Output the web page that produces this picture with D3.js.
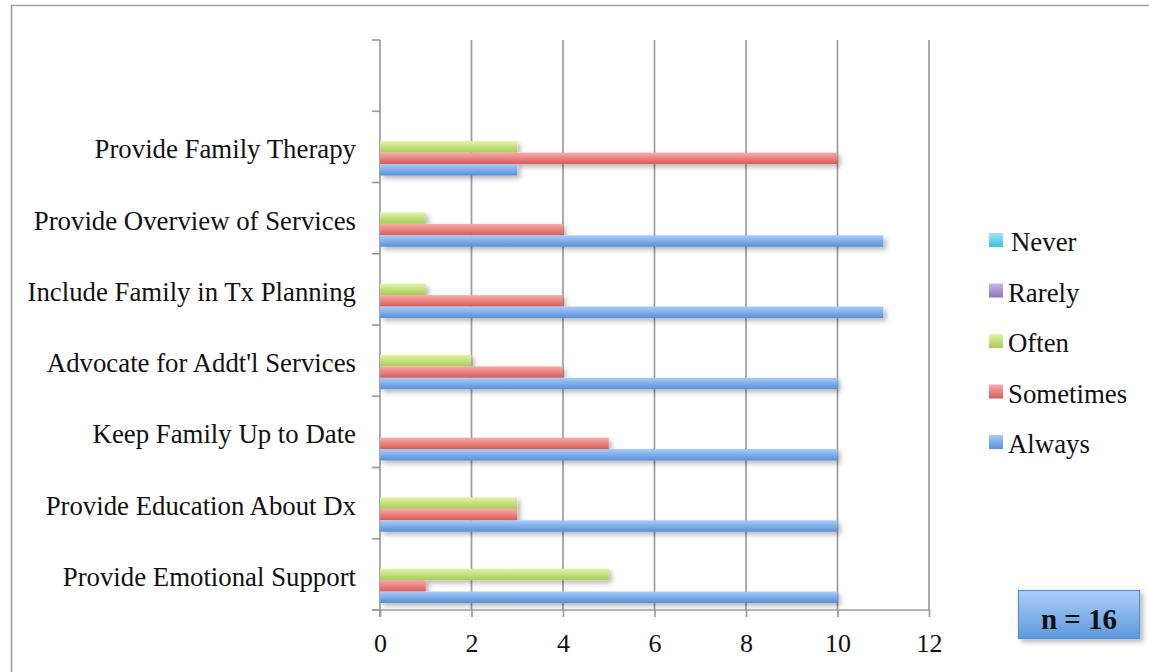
<!DOCTYPE html>
<html><head><meta charset="utf-8">
<script src="https://d3js.org/d3.v7.min.js"></script>
<style>body{margin:0;background:#fff}svg{display:block}text{font-family:"Liberation Serif","Times New Roman",serif;fill:#111}</style>
</head><body><svg id="c" width="1149" height="672"></svg>
<script>
const categories = ["", "Provide Family Therapy", "Provide Overview of Services", "Include Family in Tx Planning", "Advocate for Addt'l Services", "Keep Family Up to Date", "Provide Education About Dx", "Provide Emotional Support"];
const seriesNames = ["Never", "Rarely", "Often", "Sometimes", "Always"];
const never     = [null, 0, 0, 0, 0, 0, 0, 0];
const rarely    = [null, 0, 0, 0, 0, 0, 0, 0];
const often     = [null, 3, 1, 1, 2, 0, 3, 5];
const sometimes = [null, 10, 4, 4, 4, 5, 3, 1];
const always    = [null, 3, 11, 11, 10, 10, 10, 10];
const xTicks = [0, 2, 4, 6, 8, 10, 12];
const nLabel = "n = 16";

(function () {
const seriesValues = {Never: never, Rarely: rarely, Often: often, Sometimes: sometimes, Always: always};
const grad = {
  Never: ["#9ee6f4", "#3fc0dc"],
  Rarely: ["#c6b6e6", "#8c74bc"],
  Often: ["#e0f4a8", "#a8cc58"],
  Sometimes: ["#f8acaa", "#d85a58"],
  Always: ["#a8ccf8", "#5890d8"]
};

const svg = d3.select("#c");
const defs = svg.append("defs");
Object.entries(grad).forEach(([k, [a, b]]) => {
  const g = defs.append("linearGradient").attr("id", "g" + k).attr("x1", 0).attr("y1", 0).attr("x2", 0).attr("y2", 1);
  g.append("stop").attr("offset", "0%").attr("stop-color", a);
  g.append("stop").attr("offset", "100%").attr("stop-color", b);
});
const bg = defs.append("linearGradient").attr("id", "gBox").attr("x1", 0).attr("y1", 0).attr("x2", 0).attr("y2", 1);
bg.append("stop").attr("offset", "0%").attr("stop-color", "#acd0fa");
bg.append("stop").attr("offset", "100%").attr("stop-color", "#5e98dc");
const f = defs.append("filter").attr("id", "sh").attr("x", "-10%").attr("y", "-50%").attr("width", "130%").attr("height", "250%");
f.append("feDropShadow").attr("dx", 3).attr("dy", 3).attr("stdDeviation", 2.5).attr("flood-color", "#000").attr("flood-opacity", 0.28);

// outer frame
svg.append("path").attr("d", "M11.5,672 L11.5,5.5 L1149,5.5").attr("fill", "none").attr("stroke", "#a0a0a0").attr("stroke-width", 1.6);

const pL = 380, pR = 929, pT = 40, pB = 610;
const x = d3.scaleLinear().domain([0, 12]).range([pL, pR]);
const y0 = d3.scaleBand().domain(categories.map((c, i) => i)).range([pT, pB]).padding(0);
const bw = y0.bandwidth();
const y1 = d3.scaleBand().domain(seriesNames).range([7, bw - 7]);

// gridlines
svg.append("g").selectAll("line").data(xTicks.filter(d => d > 0)).join("line")
  .attr("x1", d => x(d)).attr("x2", d => x(d)).attr("y1", pT).attr("y2", pB)
  .attr("stroke", "#9c9c9c").attr("stroke-width", 1.7);

// y axis with ticks at band boundaries
const yb = d3.range(categories.length + 1).map(i => pT + i * bw);
svg.append("line").attr("x1", pL).attr("x2", pL).attr("y1", pT).attr("y2", pB + 7).attr("stroke", "#9c9c9c").attr("stroke-width", 1.7);
svg.append("g").selectAll("line").data(yb).join("line")
  .attr("x1", pL - 8).attr("x2", pL).attr("y1", d => d).attr("y2", d => d)
  .attr("stroke", "#9c9c9c").attr("stroke-width", 1.7);

// bars
const barsG = svg.append("g").attr("filter", "url(#sh)");
categories.forEach((c, i) => {
  seriesNames.forEach(s => {
    const v = seriesValues[s][i];
    if (v == null || v === 0) return;
    barsG.append("rect").attr("x", x(0)).attr("y", y0(i) + y1(s)).attr("width", x(v) - x(0)).attr("height", y1.bandwidth())
      .attr("fill", `url(#g${s})`);
  });
});

// x axis
const xa = svg.append("g").attr("transform", `translate(0,${pB})`)
  .call(d3.axisBottom(x).tickValues(xTicks).tickSize(7).tickPadding(17).tickSizeOuter(0));
xa.select(".domain").attr("d", `M${pL - 8},0H${pR}`).attr("stroke", "#9c9c9c").attr("stroke-width", 1.7);
xa.selectAll(".tick line").attr("stroke", "#9c9c9c").attr("stroke-width", 1.7);
xa.selectAll(".tick text").attr("font-size", 26).attr("font-family", "Liberation Serif").attr("fill", "#111");

// category labels
svg.append("g").selectAll("text").data(categories).join("text")
  .attr("x", 356).attr("y", (d, i) => y0(i) + bw / 2 + 11.5)
  .attr("text-anchor", "end").attr("font-size", 26.8).text(d => d);

// legend
const legendY = d3.scalePoint().domain(seriesNames).range([233, 435]);
const lg = svg.append("g");
seriesNames.forEach(s => {
  const yy = legendY(s);
  lg.append("rect").attr("x", 989).attr("y", yy).attr("width", 14).attr("height", 14).attr("fill", `url(#g${s})`);
  lg.append("text").attr("x", s === "Never" ? 1011 : 1008).attr("y", yy + 18).attr("font-size", 26.8).text(s);
});

// n box
svg.append("rect").attr("x", 1018.5).attr("y", 590.5).attr("width", 121).attr("height", 48)
  .attr("fill", "url(#gBox)").attr("stroke", "#5a8ed0").attr("stroke-width", 1.2).attr("filter", "url(#sh)");
svg.append("text").attr("x", 1079).attr("y", 629).attr("text-anchor", "middle").attr("font-size", 29)
  .attr("font-weight", "bold").attr("font-family", "'DejaVu Serif','Liberation Serif',serif").text(nLabel);
})();
</script></body></html>
